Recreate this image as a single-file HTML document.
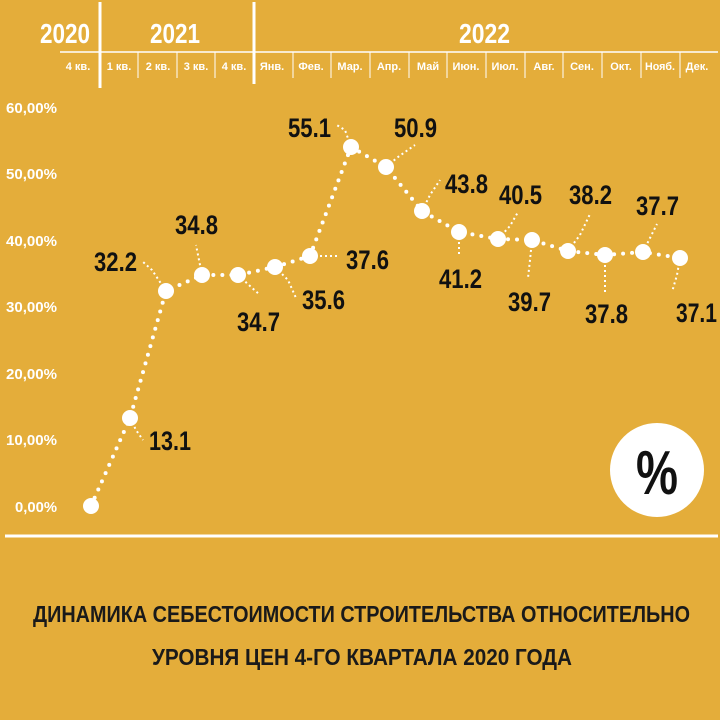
<!DOCTYPE html>
<html><head><meta charset="utf-8"><style>
html,body{margin:0;padding:0;background:#E4AD3A;}
svg{display:block;}
.n{font-family:"Liberation Sans",sans-serif;font-weight:bold;fill:#111;font-size:27px;}
.y{font-family:"Liberation Sans",sans-serif;font-weight:bold;fill:#fff;font-size:15px;}
.h{font-family:"Liberation Sans",sans-serif;font-weight:bold;fill:#fff;font-size:11px;}
.yr{font-family:"Liberation Sans",sans-serif;font-weight:bold;fill:#fff;font-size:28px;}
.t{font-family:"Liberation Sans",sans-serif;font-weight:bold;fill:#1a1a1a;font-size:23px;}
.d{stroke:#fff;stroke-width:2;stroke-dasharray:2 3;fill:none;}
</style></head><body>
<svg width="720" height="720" viewBox="0 0 720 720">
<rect width="720" height="720" fill="#E4AD3A"/>
<text class="yr" x="40" y="43" textLength="50" lengthAdjust="spacingAndGlyphs">2020</text>
<text class="yr" x="150" y="43" textLength="50" lengthAdjust="spacingAndGlyphs">2021</text>
<text class="yr" x="459" y="43" textLength="51" lengthAdjust="spacingAndGlyphs">2022</text>
<line x1="60" y1="52" x2="718" y2="52" stroke="#fff" stroke-width="1.5"/>
<line x1="100" y1="2" x2="100" y2="88" stroke="#fff" stroke-width="3"/>
<line x1="254" y1="2" x2="254" y2="84" stroke="#fff" stroke-width="3"/>
<g stroke="#fff" stroke-width="1">
<line x1="138" y1="52" x2="138" y2="78"/><line x1="177" y1="52" x2="177" y2="78"/><line x1="215" y1="52" x2="215" y2="78"/>
<line x1="293" y1="52" x2="293" y2="78"/><line x1="331" y1="52" x2="331" y2="78"/><line x1="370" y1="52" x2="370" y2="78"/>
<line x1="409" y1="52" x2="409" y2="78"/><line x1="447" y1="52" x2="447" y2="78"/><line x1="486" y1="52" x2="486" y2="78"/>
<line x1="525" y1="52" x2="525" y2="78"/><line x1="563" y1="52" x2="563" y2="78"/><line x1="602" y1="52" x2="602" y2="78"/>
<line x1="641" y1="52" x2="641" y2="78"/><line x1="680" y1="52" x2="680" y2="78"/>
</g>
<g class="h" text-anchor="middle">
<text x="78" y="70">4 кв.</text><text x="119" y="70">1 кв.</text><text x="158" y="70">2 кв.</text><text x="196" y="70">3 кв.</text><text x="234" y="70">4 кв.</text>
<text x="272" y="70">Янв.</text><text x="311" y="70">Фев.</text><text x="350" y="70">Мар.</text><text x="389" y="70">Апр.</text><text x="428" y="70">Май</text>
<text x="466" y="70">Июн.</text><text x="505" y="70">Июл.</text><text x="544" y="70">Авг.</text><text x="582" y="70">Сен.</text><text x="621" y="70">Окт.</text>
<text x="660" y="70" textLength="30" lengthAdjust="spacingAndGlyphs">Нояб.</text><text x="697" y="70">Дек.</text>
</g>
<g class="y">
<text x="6" y="113" textLength="51" lengthAdjust="spacingAndGlyphs">60,00%</text>
<text x="6" y="179" textLength="51" lengthAdjust="spacingAndGlyphs">50,00%</text>
<text x="6" y="246" textLength="51" lengthAdjust="spacingAndGlyphs">40,00%</text>
<text x="6" y="312" textLength="51" lengthAdjust="spacingAndGlyphs">30,00%</text>
<text x="6" y="379" textLength="51" lengthAdjust="spacingAndGlyphs">20,00%</text>
<text x="6" y="445" textLength="51" lengthAdjust="spacingAndGlyphs">10,00%</text>
<text x="15" y="512" textLength="42" lengthAdjust="spacingAndGlyphs">0,00%</text>
</g>
<polyline points="91,506 130,418 166,291 202,275 238,275 275,267 310,256 351,147 386,167 422,211 459,232 498,239 532,240 568,251 605,255 643,252 680,258" fill="none" stroke="#fff" stroke-width="4" stroke-linecap="round" stroke-dasharray="0 9"/>
<path class="d" d="M166,291 L152,270 L142,261"/>
<path class="d" d="M202,275 L198,255 L196,245"/>
<path class="d" d="M238,275 L250,286 L260,295"/>
<path class="d" d="M275,267 L288,280 L296,298"/>
<path class="d" d="M310,256 L340,256"/>
<path class="d" d="M351,147 L345,130 L335,124"/>
<path class="d" d="M386,167 L398,157 L415,145"/>
<path class="d" d="M422,211 L430,195 L440,180"/>
<path class="d" d="M459,232 L459,256"/>
<path class="d" d="M498,239 L510,226 L518,212"/>
<path class="d" d="M532,240 L530,260 L528,278"/>
<path class="d" d="M568,251 L580,235 L590,214"/>
<path class="d" d="M605,255 L605,292"/>
<path class="d" d="M643,252 L650,238 L657,224"/>
<path class="d" d="M680,258 L677,275 L672,292"/>
<path class="d" d="M130,418 L136,430 L143,440"/>
<g fill="#fff">
<circle cx="91" cy="506" r="8"/><circle cx="130" cy="418" r="8"/><circle cx="166" cy="291" r="8"/><circle cx="202" cy="275" r="8"/>
<circle cx="238" cy="275" r="8"/><circle cx="275" cy="267" r="8"/><circle cx="310" cy="256" r="8"/><circle cx="351" cy="147" r="8"/>
<circle cx="386" cy="167" r="8"/><circle cx="422" cy="211" r="8"/><circle cx="459" cy="232" r="8"/><circle cx="498" cy="239" r="8"/>
<circle cx="532" cy="240" r="8"/><circle cx="568" cy="251" r="8"/><circle cx="605" cy="255" r="8"/><circle cx="643" cy="252" r="8"/>
<circle cx="680" cy="258" r="8"/>
</g>
<g class="n">
<text x="94" y="271" textLength="43" lengthAdjust="spacingAndGlyphs">32.2</text>
<text x="175" y="234" textLength="43" lengthAdjust="spacingAndGlyphs">34.8</text>
<text x="237" y="331" textLength="43" lengthAdjust="spacingAndGlyphs">34.7</text>
<text x="302" y="309" textLength="43" lengthAdjust="spacingAndGlyphs">35.6</text>
<text x="346" y="269" textLength="43" lengthAdjust="spacingAndGlyphs">37.6</text>
<text x="288" y="137" textLength="43" lengthAdjust="spacingAndGlyphs">55.1</text>
<text x="394" y="137" textLength="43" lengthAdjust="spacingAndGlyphs">50.9</text>
<text x="445" y="193" textLength="43" lengthAdjust="spacingAndGlyphs">43.8</text>
<text x="439" y="288" textLength="43" lengthAdjust="spacingAndGlyphs">41.2</text>
<text x="499" y="204" textLength="43" lengthAdjust="spacingAndGlyphs">40.5</text>
<text x="508" y="311" textLength="43" lengthAdjust="spacingAndGlyphs">39.7</text>
<text x="569" y="204" textLength="43" lengthAdjust="spacingAndGlyphs">38.2</text>
<text x="585" y="323" textLength="43" lengthAdjust="spacingAndGlyphs">37.8</text>
<text x="636" y="215" textLength="43" lengthAdjust="spacingAndGlyphs">37.7</text>
<text x="676" y="322" textLength="41" lengthAdjust="spacingAndGlyphs">37.1</text>
<text x="149" y="450" textLength="42" lengthAdjust="spacingAndGlyphs">13.1</text>
</g>
<circle cx="657" cy="470" r="47" fill="#fff"/>
<text x="636" y="494" textLength="42" lengthAdjust="spacingAndGlyphs" style="font-family:'Liberation Sans',sans-serif;font-weight:bold;font-size:62px;fill:#111;">%</text>
<line x1="5" y1="536" x2="718" y2="536" stroke="#fff" stroke-width="3"/>
<text class="t" x="33" y="622" textLength="657" lengthAdjust="spacingAndGlyphs">ДИНАМИКА СЕБЕСТОИМОСТИ СТРОИТЕЛЬСТВА ОТНОСИТЕЛЬНО</text>
<text class="t" x="152" y="665" textLength="420" lengthAdjust="spacingAndGlyphs">УРОВНЯ ЦЕН 4-ГО КВАРТАЛА 2020 ГОДА</text>
</svg>
</body></html>
